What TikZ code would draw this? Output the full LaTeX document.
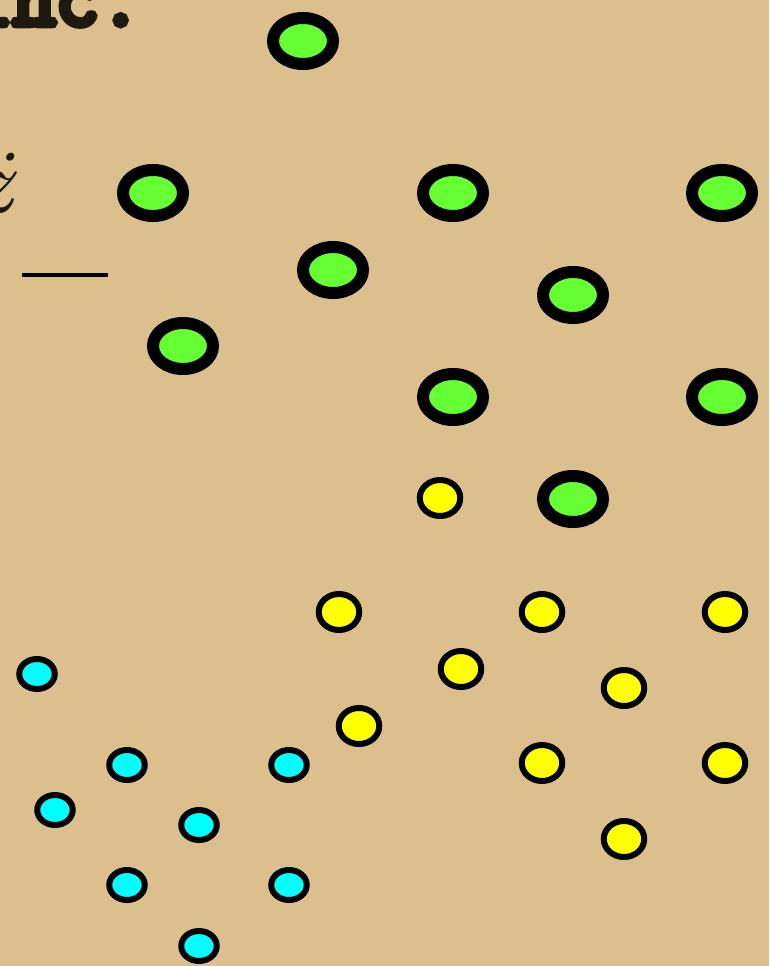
\documentclass[tikz,border=0pt]{standalone}
\usepackage{fontspec}
\newfontfamily\ttheavy[FakeBold=8]{Latin Modern Mono}
\usetikzlibrary{shapes.geometric}
\definecolor{parch}{RGB}{219,192,142}
\definecolor{ink}{RGB}{30,25,15}
\definecolor{dotgreen}{RGB}{102,255,51}
\definecolor{dotyellow}{RGB}{255,255,0}
\definecolor{dotcyan}{RGB}{0,255,255}
\tikzset{
  greendot/.style={ellipse, draw=black, fill=dotgreen, line width=12pt, minimum width=60pt, minimum height=46pt, inner sep=0pt},
  yellowdot/.style={ellipse, draw=black, fill=dotyellow, line width=6pt, minimum width=40.5pt, minimum height=36pt, inner sep=0pt},
  cyandot/.style={ellipse, draw=black, fill=dotcyan, line width=6pt, minimum width=35.5pt, minimum height=30pt, inner sep=0pt},
}
\begin{document}
\begin{tikzpicture}[x=1pt,y=-1pt]
\useasboundingbox (0,0) rectangle (769,966);
\clip (0,0) rectangle (769,966);
\fill[parch] (0,0) rectangle (769,966);
% text fragments
\node[anchor=base west, inner sep=0pt, text=ink, font=\ttheavy\fontsize{84}{84}\selectfont] (txt) at (-31,25) {inc.};
\node[anchor=base east, inner sep=0pt, text=ink, font=\itshape\fontsize{92}{92}\selectfont] (zz) at (13,212) {\"z};
\coordinate (ba) at (22,275);
\coordinate (bb) at (108,275);
\draw[line width=4.5pt] (ba) -- (bb);
% green
\node[greendot] (g1) at (303,41) {};
\node[greendot] (g2) at (153,193) {};
\node[greendot] (g3) at (453,193) {};
\node[greendot] (g4) at (722,193) {};
\node[greendot] (g5) at (333,270) {};
\node[greendot] (g6) at (573,295) {};
\node[greendot] (g7) at (183,346) {};
\node[greendot] (g8) at (453,397) {};
\node[greendot] (g9) at (722,397) {};
\node[greendot] (g10) at (573,499) {};
% yellow
\node[yellowdot] (y1) at (440,498) {};
\node[yellowdot] (y2) at (339,612) {};
\node[yellowdot] (y3) at (542,612) {};
\node[yellowdot] (y4) at (725,612) {};
\node[yellowdot] (y5) at (461,669) {};
\node[yellowdot] (y6) at (624,688) {};
\node[yellowdot] (y7) at (359,726) {};
\node[yellowdot] (y8) at (542,763) {};
\node[yellowdot] (y9) at (725,763) {};
\node[yellowdot] (y10) at (624,839) {};
% cyan
\node[cyandot] (c1) at (37,674) {};
\node[cyandot] (c2) at (127,765) {};
\node[cyandot] (c3) at (289,765) {};
\node[cyandot] (c4) at (55,810) {};
\node[cyandot] (c5) at (199,825) {};
\node[cyandot] (c6) at (127,885) {};
\node[cyandot] (c7) at (289,885) {};
\node[cyandot] (c8) at (199,946) {};
\end{tikzpicture}
\end{document}
